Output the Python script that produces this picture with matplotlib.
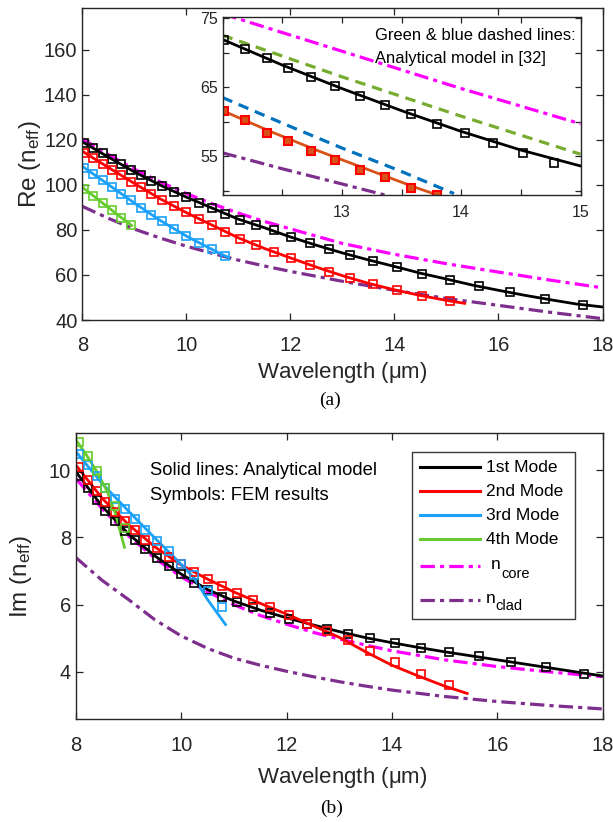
import matplotlib
matplotlib.use("Agg")
import matplotlib.pyplot as plt
from matplotlib.lines import Line2D
from matplotlib.patches import Rectangle

plt.rcParams['font.family'] = ['Liberation Sans', 'DejaVu Sans']
plt.rcParams['mathtext.fontset'] = 'custom'
plt.rcParams['mathtext.rm'] = 'Liberation Sans'
plt.rcParams['mathtext.it'] = 'Liberation Sans:italic'
plt.rcParams['mathtext.default'] = 'rm'

# ---------------- data: panel (a) Re(n_eff) ----------------
lam_fem = [8.04, 8.21, 8.39, 8.57, 8.74, 8.93, 9.12, 9.32, 9.53, 9.76, 9.99, 10.24,
           10.49, 10.75, 11.03, 11.34, 11.68, 12.02, 12.38, 12.75, 13.15, 13.58,
           14.05, 14.53, 15.06, 15.62, 16.23, 16.89, 17.62]
re_fem_m1 = [118.6, 116.4, 114.0, 111.4, 109.2, 106.7, 104.3, 101.7, 99.5, 97.0, 94.7, 92.2,
             89.8, 87.3, 84.5, 82.0, 79.8, 76.8, 74.1, 71.4, 68.8, 66.2,
             63.5, 60.6, 57.9, 54.9, 52.3, 49.4, 46.7]
re_fem_m2 = [114.4, 111.9, 109.4, 106.7, 104.3, 101.4, 98.9, 96.2, 93.4, 90.5, 87.8, 85.0,
             82.2, 79.3, 76.2, 73.2, 70.3, 67.4, 64.4, 61.4, 58.7, 55.8, 53.2, 50.8, 48.5]
re_fem_m3 = [107.7, 105.0, 102.0, 99.0, 96.1, 93.1, 89.8, 86.8, 83.8, 80.4, 77.5, 74.4, 71.4, 68.4]
re_fem_m4 = [98.3, 95.0, 92.0, 88.7, 85.3, 82.2]

lam_line = [8.0, 8.5, 9.0, 9.5, 10.0, 10.5, 11.0, 11.5, 12.0, 12.5, 13.0, 13.5,
            14.0, 14.5, 15.0, 15.5, 16.0, 16.5, 17.0, 17.5, 18.0]
re_m1 = [119.2, 112.4, 105.8, 99.9, 94.6, 89.7, 84.8, 81.0, 76.9, 73.2, 69.8, 66.7,
         63.8, 60.8, 58.2, 55.5, 53.2, 51.0, 49.0, 47.1, 45.8]
lam_m2 = [8.0, 8.5, 9.0, 9.5, 10.0, 10.5, 11.0, 11.5, 12.0, 12.5, 13.0, 13.5, 14.0, 14.5, 15.0, 15.35]
re_m2 = [115.0, 107.8, 100.7, 93.8, 87.7, 82.1, 76.5, 71.8, 67.6, 63.5, 59.7, 56.3, 53.4, 50.9, 48.7, 47.4]
lam_m3 = [8.0, 8.5, 9.0, 9.5, 10.0, 10.5, 10.8]
re_m3 = [108.3, 100.2, 92.0, 84.2, 77.3, 71.3, 67.8]
lam_m4 = [8.0, 8.25, 8.5, 8.75, 8.95]
re_m4 = [99.0, 94.5, 90.0, 85.5, 82.0]

lam_mat = [8.0, 8.5, 9.0, 9.5, 10.0, 10.5, 11.0, 11.5, 12.0, 13.0, 14.0, 15.0, 16.0, 17.0, 18.0]
re_core = [120.5, 113.5, 107.0, 101.3, 96.2, 91.6, 87.5, 83.8, 80.5, 74.0, 69.2, 65.0, 61.3, 57.7, 54.3]
re_clad = [90.5, 85.2, 80.4, 76.4, 72.8, 69.6, 66.6, 64.0, 61.6, 57.2, 53.2, 49.6, 46.5, 43.4, 40.6]

# ---------------- data: inset ----------------
ins_lam_fem = [12.01, 12.19, 12.37, 12.55, 12.74, 12.94, 13.15, 13.36, 13.58, 13.80,
               14.03, 14.27, 14.52, 14.78]
ins_fem_m1 = [71.8, 70.5, 69.2, 67.8, 66.4, 65.1, 63.7, 62.4, 61.1, 59.7, 58.3, 56.9, 55.5, 54.1]
ins_fem_m2 = [61.6, 60.3, 58.4, 57.2, 55.8, 54.4, 53.0, 52.0, 50.4, 49.4]
ins_lam_line = [12.0, 12.5, 13.0, 13.5, 14.0, 14.5, 15.0]
ins_m1 = [71.9, 68.2, 64.8, 61.6, 58.6, 55.9, 53.6]
ins_lam_m2 = [12.0, 12.2, 12.4, 12.6, 12.8, 13.0, 13.2, 13.4, 13.6, 13.8]
ins_m2 = [61.6, 60.1, 58.6, 57.2, 55.8, 54.5, 53.2, 51.9, 50.6, 49.4]
ins_lam_ref = [12.0, 13.0, 14.0, 15.0]
ins_ref_m1 = [72.5, 66.5, 60.8, 55.3]
ins_lam_ref2 = [12.0, 12.5, 13.0, 13.5, 13.94]
ins_ref_m2 = [63.5, 59.8, 56.2, 52.8, 49.6]
ins_lam_core = [12.0, 13.0, 14.0, 15.0]
ins_core = [75.6, 70.2, 64.8, 59.7]
ins_lam_clad = [12.0, 12.5, 13.0, 13.45]
ins_clad = [55.5, 53.2, 51.0, 49.0]

# ---------------- data: panel (b) Im(n_eff) ----------------
lam_fem_b = [8.06, 8.22, 8.39, 8.56, 8.74, 8.93, 9.12, 9.32, 9.54, 9.77, 10.0, 10.25,
             10.51, 10.78, 11.06, 11.36, 11.69, 12.04, 12.39, 12.76, 13.16, 13.58,
             14.06, 14.55, 15.09, 15.65, 16.27, 16.93, 17.64]
im_fem_m1 = [9.82, 9.46, 9.12, 8.80, 8.49, 8.20, 7.92, 7.65, 7.40, 7.14, 6.91, 6.66,
             6.44, 6.24, 6.08, 5.92, 5.76, 5.59, 5.44, 5.29, 5.14, 5.00,
             4.86, 4.72, 4.59, 4.46, 4.31, 4.15, 3.95]
im_fem_m2 = [10.10, 9.71, 9.37, 9.07, 8.76, 8.49, 8.21, 7.93, 7.68, 7.41, 7.20, 6.98,
             6.76, 6.56, 6.34, 6.13, 5.92, 5.70, 5.44, 5.22, 4.96, 4.63, 4.31, 3.95, 3.61]
im_fem_m3 = [10.49, 10.15, 9.82, 9.46, 9.14, 8.85, 8.54, 8.21, 7.90, 7.59, 7.22, 6.88, 6.42, 5.92]
im_fem_m4 = [10.83, 10.41, 9.97, 9.48, 8.93, 8.27]

im_m1 = [9.95, 8.92, 8.10, 7.45, 6.91, 6.45, 6.11, 5.84, 5.61, 5.40, 5.20, 5.02,
         4.87, 4.73, 4.60, 4.48, 4.36, 4.24, 4.12, 4.00, 3.88]
lam_m2_b = [8.0, 8.5, 9.0, 9.5, 10.0, 10.5, 11.0, 11.5, 12.0, 12.5, 13.0, 13.5, 14.0, 14.5, 15.0, 15.43]
im_m2 = [10.15, 9.16, 8.38, 7.72, 7.18, 6.76, 6.38, 6.04, 5.72, 5.38, 5.03, 4.60, 4.20, 3.88, 3.58, 3.36]
lam_m3_b = [8.0, 8.5, 9.0, 9.5, 10.0, 10.25, 10.5, 10.84]
im_m3 = [10.55, 9.60, 8.78, 7.98, 7.20, 6.78, 6.15, 5.41]
lam_m4_b = [8.0, 8.2, 8.4, 8.6, 8.75, 8.92]
im_m4 = [10.90, 10.45, 9.95, 9.35, 8.70, 7.71]
lam_mat_b = [8.0, 8.5, 9.0, 9.5, 10.0, 10.5, 11.0, 11.5, 12.0, 12.5, 13.0, 13.5, 14.0, 15.0, 16.0, 17.0, 18.0]
im_core = [9.75, 8.85, 8.05, 7.38, 6.83, 6.38, 6.00, 5.68, 5.42, 5.18, 4.98, 4.80, 4.63, 4.36, 4.16, 4.00, 3.86]
im_clad = [7.40, 6.72, 6.15, 5.55, 5.07, 4.70, 4.41, 4.20, 4.02, 3.86, 3.71, 3.58, 3.46, 3.27, 3.12, 3.00, 2.90]

mode_labels = ['1st Mode', '2nd Mode', '3rd Mode', '4th Mode']
mat_labels = ['core', 'clad']

# ---------------- styles ----------------
C_BLACK = '#000000'
C_RED = '#FF0000'
C_BLUE = '#1BA1FA'
C_GREEN = '#66CC2E'
C_MAG = '#FF00FF'
C_PURP = '#7E2F8E'
C_ORANGE = '#D95319'
C_DBLUE = '#0072BD'
C_DGREEN = '#77AC30'
AX_COL = '#262626'
LW = 2.0
DD = (0, (4.5, 1.6, 1.3, 1.6))
MS = 5.2
MEW = 1.2

W, H = 613, 822
fig = plt.figure(figsize=(W / 100, H / 100), dpi=100)


def px_axes(l, t, r, b):
    return fig.add_axes([l / W, 1 - b / H, (r - l) / W, (b - t) / H])


def fx(x):
    return x / W


def fy(y):
    return 1 - y / H


def style(ax, fs):
    for s in ax.spines.values():
        s.set_color(AX_COL)
        s.set_linewidth(1.0)
    ax.tick_params(direction='in', top=True, right=True, length=5, width=0.9,
                   colors=AX_COL, labelsize=fs, labelcolor=AX_COL)


# ---------------- panel (a) ----------------
ax1 = px_axes(82.3, 8.3, 602.5, 320)
ax1.plot(lam_mat, re_core, color=C_MAG, lw=LW + 0.3, ls=DD)
ax1.plot(lam_mat, re_clad, color=C_PURP, lw=LW + 0.3, ls=DD)
ax1.plot(lam_line, re_m1, color=C_BLACK, lw=LW)
ax1.plot(lam_m2, re_m2, color=C_RED, lw=LW)
ax1.plot(lam_m3, re_m3, color=C_BLUE, lw=LW)
ax1.plot(lam_m4, re_m4, color=C_GREEN, lw=LW)
ax1.plot(lam_fem, re_fem_m1, 's', mfc='none', mec=C_BLACK, ms=MS, mew=MEW)
ax1.plot(lam_fem[:len(re_fem_m2)], re_fem_m2, 's', mfc='none', mec=C_RED, ms=MS, mew=MEW)
ax1.plot(lam_fem[:len(re_fem_m3)], re_fem_m3, 's', mfc='none', mec=C_BLUE, ms=MS, mew=MEW)
ax1.plot(lam_fem[:len(re_fem_m4)], re_fem_m4, 's', mfc='none', mec=C_GREEN, ms=MS, mew=MEW)
ax1.set_xlim(8, 18)
ax1.set_ylim(40, 178.5)
ax1.set_xticks([8, 10, 12, 14, 16, 18])
ax1.set_yticks([40, 60, 80, 100, 120, 140, 160])
style(ax1, 14.5)
ax1.tick_params(axis='x', pad=11.5)
ax1.set_ylabel(r'Re (n$_{eff}$)', fontsize=17.5, color=AX_COL)
ax1.yaxis.set_label_coords(-0.076, 0.5)
fig.text(fx(342), fy(372), r'Wavelength ($\mu$m)', fontsize=16, color=AX_COL,
         ha='center', va='center')
fig.text(fx(330), fy(400), '(a)', fontsize=14, ha='center', va='center',
         family=['Liberation Serif', 'DejaVu Serif'])

# ---------------- inset ----------------
axi = px_axes(222.5, 17.3, 580.5, 195)
axi.set_facecolor('white')
axi.plot(ins_lam_core, ins_core, color=C_MAG, lw=LW + 0.3, ls=DD)
axi.plot(ins_lam_clad, ins_clad, color=C_PURP, lw=LW + 0.3, ls=DD)
axi.plot(ins_lam_ref, ins_ref_m1, color=C_DGREEN, lw=LW + 0.3, ls=(0, (3.3, 2.2)))
axi.plot(ins_lam_ref2, ins_ref_m2, color=C_DBLUE, lw=LW + 0.3, ls=(0, (3.3, 2.2)))
axi.plot(ins_lam_line, ins_m1, color=C_BLACK, lw=LW)
axi.plot(ins_lam_m2, ins_m2, color=C_ORANGE, lw=LW)
axi.plot(ins_lam_fem, ins_fem_m1, 's', mfc='none', mec=C_BLACK, ms=MS, mew=MEW)
axi.plot(ins_lam_fem[:len(ins_fem_m2)], ins_fem_m2, 's', mfc=C_ORANGE, mec=C_RED,
         ms=MS + 0.5, mew=MEW + 0.3)
axi.set_xlim(12, 15)
axi.set_ylim(49.4, 75.1)
axi.set_xticks([12, 12.5, 13, 13.5, 14, 14.5, 15])
axi.set_xticklabels(['', '', '13', '', '14', '', '15'])
axi.set_yticks([50, 55, 60, 65, 70, 75])
axi.set_yticklabels(['', '55', '', '65', '', '75'])
style(axi, 11.5)
axi.tick_params(axis='x', pad=7)
axi.tick_params(length=4)
fig.text(fx(375), fy(35), 'Green & blue dashed lines:', fontsize=11.9, color='black', va='center')
fig.text(fx(375), fy(58), 'Analytical model in [32]', fontsize=11.9, color='black', va='center')

# ---------------- panel (b) ----------------
ax2 = px_axes(76, 433.3, 602.5, 719)
ax2.plot(lam_mat_b, im_core, color=C_MAG, lw=LW + 0.3, ls=DD)
ax2.plot(lam_mat_b, im_clad, color=C_PURP, lw=LW + 0.3, ls=DD)
ax2.plot(lam_line, im_m1, color=C_BLACK, lw=LW)
ax2.plot(lam_m2_b, im_m2, color=C_RED, lw=LW)
ax2.plot(lam_m3_b, im_m3, color=C_BLUE, lw=LW)
ax2.plot(lam_m4_b, im_m4, color=C_GREEN, lw=LW)
ax2.plot(lam_fem_b, im_fem_m1, 's', mfc='none', mec=C_BLACK, ms=MS + 0.6, mew=MEW)
ax2.plot(lam_fem_b[:len(im_fem_m2)], im_fem_m2, 's', mfc='none', mec=C_RED, ms=MS + 0.6, mew=MEW)
ax2.plot(lam_fem_b[:len(im_fem_m3)], im_fem_m3, 's', mfc='none', mec=C_BLUE, ms=MS + 0.6, mew=MEW)
ax2.plot(lam_fem_b[:len(im_fem_m4)], im_fem_m4, 's', mfc='none', mec=C_GREEN, ms=MS + 0.6, mew=MEW)
ax2.set_xlim(8, 18)
ax2.set_ylim(2.6, 11.1)
ax2.set_xticks([8, 10, 12, 14, 16, 18])
ax2.set_yticks([4, 6, 8, 10])
style(ax2, 14.5)
ax2.tick_params(axis='x', pad=12.5)
ax2.set_ylabel(r'Im (n$_{eff}$)', fontsize=17.5, color=AX_COL)
ax2.yaxis.set_label_coords(-0.08, 0.5)
fig.text(fx(342), fy(777), r'Wavelength ($\mu$m)', fontsize=16, color=AX_COL,
         ha='center', va='center')
fig.text(fx(332), fy(808), '(b)', fontsize=14, ha='center', va='center',
         family=['Liberation Serif', 'DejaVu Serif'])
fig.text(fx(150), fy(470), 'Solid lines: Analytical model', fontsize=13.2, va='center')
fig.text(fx(150), fy(495), 'Symbols: FEM results', fontsize=13.2, va='center')

# ---------------- manual legend (panel b) ----------------
fig.patches.append(Rectangle((fx(412), fy(619)), fx(575) - fx(412), fy(452) - fy(619),
                             transform=fig.transFigure, facecolor='white',
                             edgecolor='#3a3a3a', lw=1.0, zorder=5))
mode_colors = [C_BLACK, C_RED, C_BLUE, C_GREEN]
row_y = [467, 491, 515, 539, 566, 600]
for lab, col, yy in zip(mode_labels, mode_colors, row_y[:4]):
    fig.add_artist(Line2D([fx(420), fx(480)], [fy(yy), fy(yy)], transform=fig.transFigure,
                          color=col, lw=LW + 0.2, zorder=6))
    fig.text(fx(486), fy(yy), lab, fontsize=12.5, va='center', zorder=6)
mat_colors = [C_MAG, C_PURP]
n_x = [491, 486]
n_y = [564, 598]
sub_x = [501, 495]
sub_y = [574, 606]
for lab, col, yy, nx, ny, sx, sy in zip(mat_labels, mat_colors, row_y[4:], n_x, n_y, sub_x, sub_y):
    fig.add_artist(Line2D([fx(420), fx(480)], [fy(yy), fy(yy)], transform=fig.transFigure,
                          color=col, lw=LW + 0.3, ls=DD, zorder=6))
    fig.text(fx(nx), fy(ny), 'n', fontsize=12.5, va='center', zorder=6)
    fig.text(fx(sx), fy(sy), lab, fontsize=10.5, va='center', zorder=6)

fig.savefig('out.png', dpi=100)
